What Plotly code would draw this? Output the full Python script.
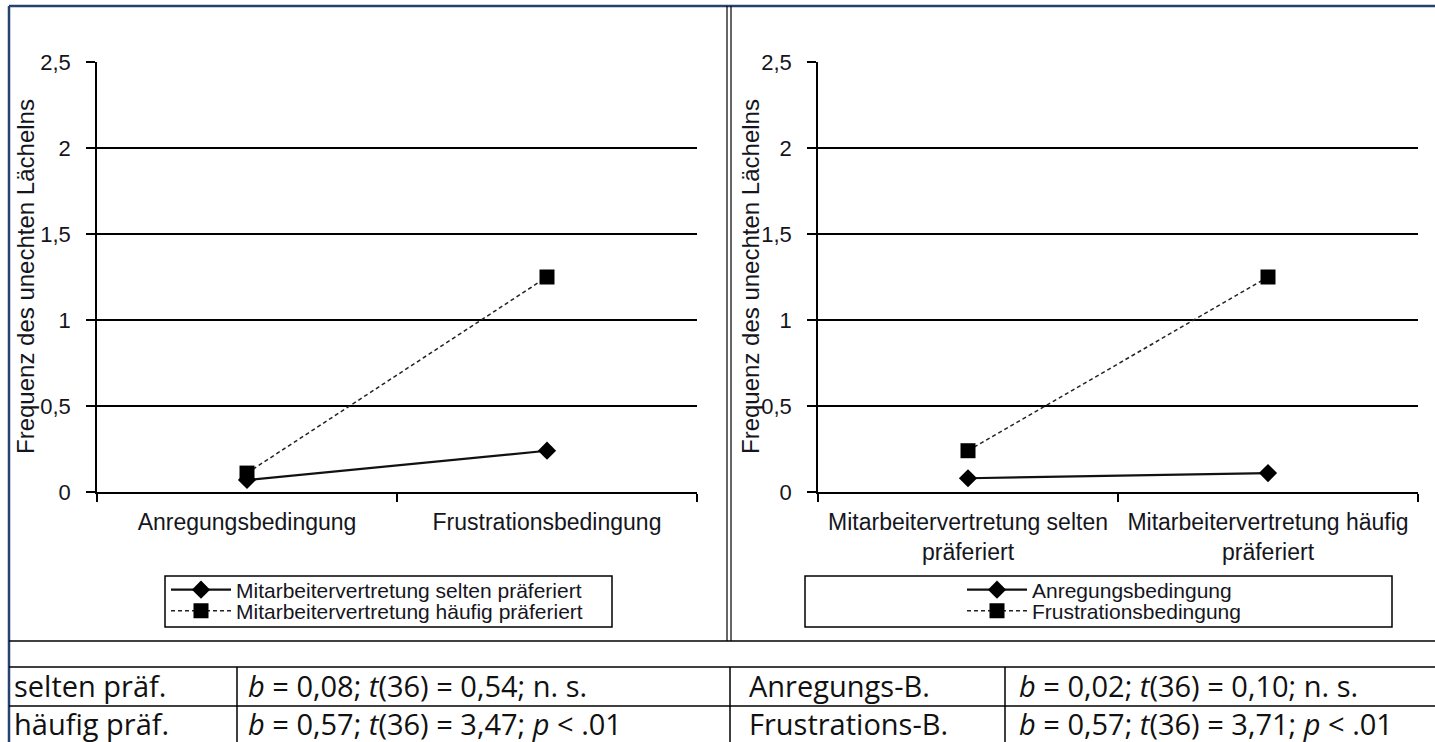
import plotly.graph_objects as go

W, H = 1435, 742

# ---------------- data ----------------
conditions = ["Anregungsbedingung", "Frustrationsbedingung"]
preference_labels = ["Mitarbeitervertretung selten<br>präferiert",
                     "Mitarbeitervertretung häufig<br>präferiert"]

left_selten = [0.07, 0.24]
left_haeufig = [0.11, 1.25]
right_anregung = [0.08, 0.11]
right_frustration = [0.24, 1.25]

left_legend_names = ["Mitarbeitervertretung selten präferiert",
                     "Mitarbeitervertretung häufig präferiert"]
right_legend_names = ["Anregungsbedingung", "Frustrationsbedingung"]

y_tickvals = [0, 0.5, 1, 1.5, 2, 2.5]
y_ticktext = ["0", "0,5", "1", "1,5", "2", "2,5"]
grid_vals = [0.5, 1, 1.5, 2]
y_title = "Frequenz des unechten Lächelns"

table_left_groups = ["selten präf.", "häufig präf."]
table_left_stats = ["<i>b</i> = 0,08; <i>t</i>(36) = 0,54; n. s.",
                    "<i>b</i> = 0,57; <i>t</i>(36) = 3,47; <i>p</i> &lt; .01"]
table_right_groups = ["Anregungs-B.", "Frustrations-B."]
table_right_stats = ["<i>b</i> = 0,02; <i>t</i>(36) = 0,10; n. s.",
                     "<i>b</i> = 0,57; <i>t</i>(36) = 3,71; <i>p</i> &lt; .01"]


def fx(px):
    return px / W


def fy(py):
    return 1 - py / H


CHART_FONT = "Liberation Sans, Arial, sans-serif"
TABLE_FONT = "Open Sans, Lato, sans-serif"
TXT = "#151520"

fig = go.Figure()

solid_style = dict(mode="lines+markers", line=dict(color="#111111", width=2.2),
                   marker=dict(symbol="diamond", size=14, color="black"))
dash_style = dict(mode="lines+markers", line=dict(color="#222222", width=1.5, dash="4px,3px"),
                  marker=dict(symbol="square", size=15, color="black"))

fig.add_trace(go.Scatter(x=conditions, y=left_selten, name=left_legend_names[0],
                         xaxis="x", yaxis="y", legend="legend", **solid_style))
fig.add_trace(go.Scatter(x=conditions, y=left_haeufig, name=left_legend_names[1],
                         xaxis="x", yaxis="y", legend="legend2", **dash_style))
fig.add_trace(go.Scatter(x=preference_labels, y=right_anregung, name=right_legend_names[0],
                         xaxis="x2", yaxis="y2", legend="legend3", **solid_style))
fig.add_trace(go.Scatter(x=preference_labels, y=right_frustration, name=right_legend_names[1],
                         xaxis="x2", yaxis="y2", legend="legend4", **dash_style))
# empty traces to create grid-only overlay axes
fig.add_trace(go.Scatter(x=[], y=[], xaxis="x", yaxis="y3", showlegend=False, hoverinfo="skip"))
fig.add_trace(go.Scatter(x=[], y=[], xaxis="x2", yaxis="y4", showlegend=False, hoverinfo="skip"))

xdom_l = [fx(97), fx(697)]
xdom_r = [fx(818), fx(1418)]
ydom = [fy(492), fy(62)]

xa = dict(type="category", range=[-0.5, 1.5], showline=True, linecolor="black", linewidth=1.5,
          ticks="outside", tickson="boundaries", ticklen=8, tickcolor="black", tickwidth=1.5,
          showgrid=False, zeroline=False, tickfont=dict(family=CHART_FONT, size=23, color=TXT),
          ticklabelstandoff=9, fixedrange=True, automargin=False)
ya = dict(range=[0, 2.5], tickvals=y_tickvals, ticktext=y_ticktext, showline=True,
          linecolor="black", linewidth=1.5, ticks="outside", ticklen=9, tickcolor="black",
          tickwidth=1.5, showgrid=False, zeroline=False,
          tickfont=dict(family=CHART_FONT, size=22, color=TXT), ticklabelstandoff=11,
          domain=ydom, fixedrange=True, automargin=False)
ygrid = dict(range=[0, 2.5], tickvals=grid_vals, showticklabels=False, ticks="",
             showgrid=True, gridcolor="black", gridwidth=1.5, showline=False, zeroline=False,
             fixedrange=True, automargin=False)


def leg(px, py):
    return dict(x=fx(px), y=fy(py), xanchor="left", yanchor="middle", bgcolor="rgba(0,0,0,0)",
                borderwidth=0, itemwidth=60, tracegroupgap=0,
                font=dict(family=CHART_FONT, size=21, color=TXT))


fig.update_layout(
    width=W, height=H,
    margin=dict(l=0, r=0, t=0, b=0, autoexpand=False),
    paper_bgcolor="white", plot_bgcolor="rgba(0,0,0,0)",
    xaxis=dict(domain=xdom_l, anchor="y", **xa),
    xaxis2=dict(domain=xdom_r, anchor="y2", **xa),
    yaxis=dict(anchor="x", **ya),
    yaxis2=dict(anchor="x2", **ya),
    yaxis3=dict(overlaying="y", anchor="x", **ygrid),
    yaxis4=dict(overlaying="y2", anchor="x2", **ygrid),
    legend=leg(166, 590),
    legend2=leg(166, 611),
    legend3=leg(962, 590),
    legend4=leg(962, 611),
    showlegend=True,
)

annotations = []
# y-axis titles
for cx in (25, 750):
    annotations.append(dict(text=y_title, x=fx(cx), y=fy(277), xref="paper", yref="paper",
                            textangle=-90, showarrow=False, xanchor="center", yanchor="middle",
                            font=dict(family=CHART_FONT, size=24, color=TXT)))
# table text
row_y = [685, 723]
for i in range(2):
    for px, txt in ((12, table_left_groups[i]), (246, table_left_stats[i]),
                    (747, table_right_groups[i]), (1017, table_right_stats[i])):
        annotations.append(dict(text=txt, x=fx(px), y=fy(row_y[i]), xref="paper", yref="paper",
                                showarrow=False, xanchor="left", yanchor="middle",
                                font=dict(family=TABLE_FONT, size=29, color="#111111")))
fig.update_layout(annotations=annotations)

shapes = []


def line(x0, y0, x1, y1, color="black", width=1.5):
    shapes.append(dict(type="line", xref="paper", yref="paper", x0=fx(x0), y0=fy(y0),
                       x1=fx(x1), y1=fy(y1), line=dict(color=color, width=width)))


NAVY = "#26426e"
line(9, 6, W, 6, NAVY, 2.5)
line(9, 6, 9, H, NAVY, 2.5)
line(727, 6, 727, 641, "black", 1.2)
line(731, 6, 731, 641, "black", 1.2)
line(9, 641, W, 641, "black", 1.5)
line(9, 667, W, 667, "black", 1.5)
line(9, 706, W, 706, "black", 1.5)
line(237, 667, 237, H, "black", 1.5)
line(730, 667, 730, H, "black", 1.5)
line(1005, 667, 1005, H, "black", 1.5)
# legend boxes
for x0, x1 in ((165, 612), (805, 1392)):
    shapes.append(dict(type="rect", xref="paper", yref="paper", x0=fx(x0), x1=fx(x1),
                       y0=fy(627), y1=fy(576), line=dict(color="black", width=1.5)))
fig.update_layout(shapes=shapes)

fig.write_html("out.html")
